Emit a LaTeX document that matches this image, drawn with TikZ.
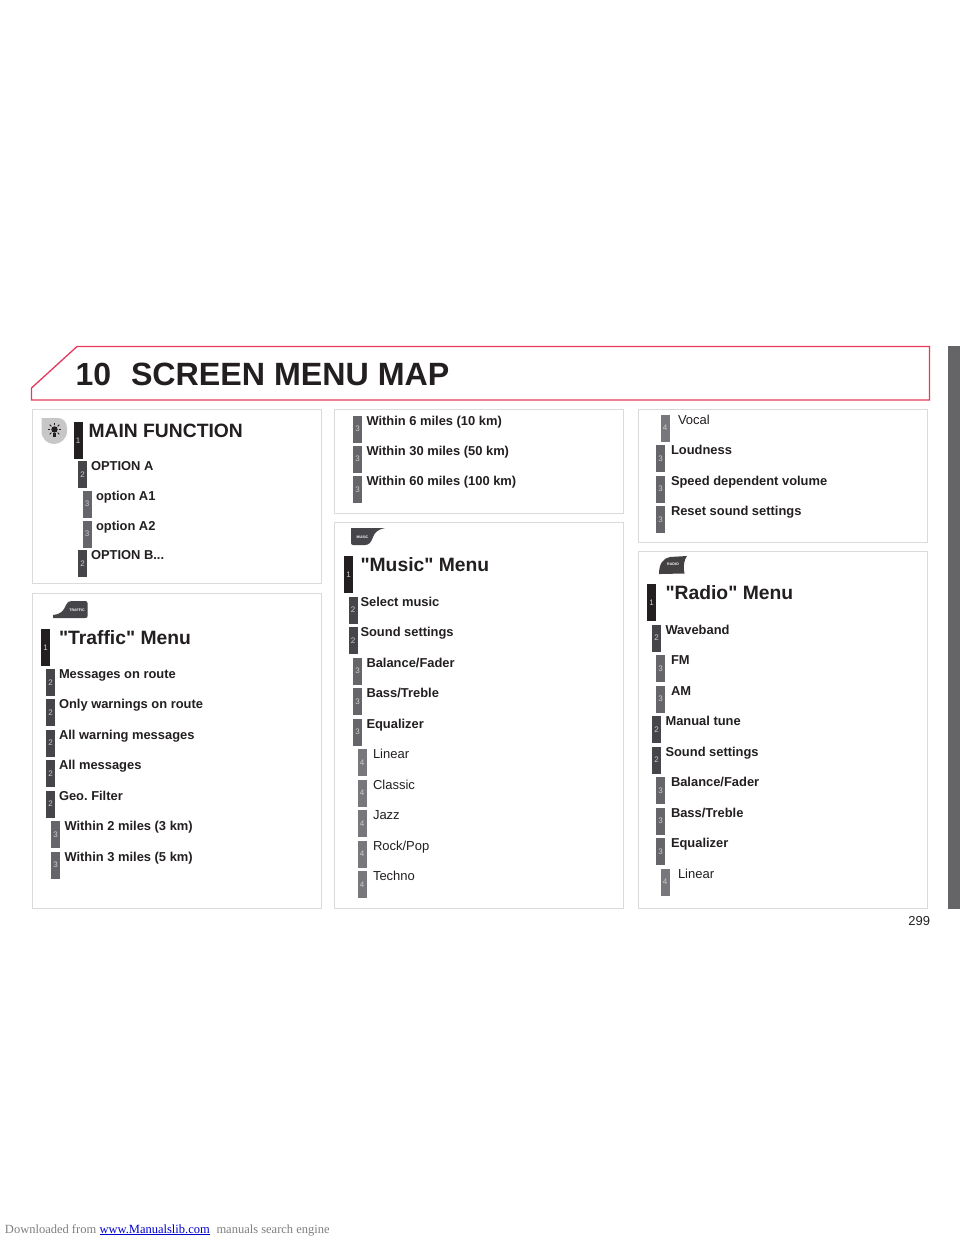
\documentclass[tikz,border=0pt]{standalone}
\usepackage{fontspec}
\setmainfont[Ligatures=TeXOff]{Liberation Sans}
\newfontfamily\footfont{Liberation Serif}
\frenchspacing
\definecolor{ink}{HTML}{231F20}
\definecolor{lvA}{HTML}{231F20}
\definecolor{lvB}{HTML}{46464A}
\definecolor{lvC}{HTML}{66666A}
\definecolor{lvD}{HTML}{78787C}
\definecolor{panelline}{HTML}{DADADA}
\definecolor{redline}{HTML}{E8385C}
\definecolor{sidebar}{HTML}{656567}
\tikzset{
  panel/.style={draw=panelline,line width=1pt,fill=white},
  barbase/.style={anchor=north west,inner sep=0pt,outer sep=0pt,minimum width=9pt,text=white!80!black,font=\fontsize{8}{8}\selectfont},
  barA/.style={barbase,fill=lvA,minimum height=36.5pt},
  barB/.style={barbase,fill=lvB,minimum height=27pt},
  barC/.style={barbase,fill=lvC,minimum height=27pt},
  barD/.style={barbase,fill=lvD,minimum height=27pt},
  lab/.style={anchor=base west,inner sep=0pt,outer sep=0pt,text=ink},
  labA/.style={lab,font=\fontsize{19.3}{20}\selectfont\bfseries},
  labB/.style={lab,font=\fontsize{12.9}{14}\selectfont\bfseries},
  labD/.style={lab,font=\fontsize{13}{14}\selectfont},
  iconshape/.style={fill=lvB,draw=none},
  icontext/.style={inner sep=0pt,text=white,font=\fontsize{3.6}{4}\selectfont\bfseries},
}
\newcounter{ent}
\newcommand{\entA}[4]{\stepcounter{ent}%
  \node[barA] (bar\theent) at (#1,#3-8) {1};
  \node[labA] (txt\theent) at (#2,#3+7) {#4};}
\newcommand{\entB}[4]{\stepcounter{ent}%
  \node[barB] (bar\theent) at (#1,#3-5) {2};
  \node[labB] (txt\theent) at (#2,#3+4.5) {#4};}
\newcommand{\entC}[4]{\stepcounter{ent}%
  \node[barC] (bar\theent) at (#1,#3-5) {3};
  \node[labB] (txt\theent) at (#2,#3+4.5) {#4};}
\newcommand{\entD}[4]{\stepcounter{ent}%
  \node[barD] (bar\theent) at (#1,#3-5) {4};
  \node[labD] (txt\theent) at (#2,#3+4.5) {#4};}
\begin{document}
\begin{tikzpicture}[x=1pt,y=-1pt]
\useasboundingbox (0,0) rectangle (960,1242);
\fill[white] (0,0) rectangle (960,1242);
\fill[sidebar] (948,346) rectangle (960,909);
\draw[redline,line width=1.3pt] (31.5,388) -- (77,346.5) -- (929.5,346.5) -- (929.5,400) -- (31.5,400) -- cycle;
\node[lab,font=\fontsize{32}{32}\selectfont\bfseries] (chapter) at (75.5,385) {10};
\node[lab,font=\fontsize{32.2}{33}\selectfont\bfseries] (title) at (131,385.5) {SCREEN MENU MAP};
\draw[panel] (32,409) rectangle (321,583);
\draw[panel] (32,593) rectangle (321,908);
\draw[panel] (334,409) rectangle (623,513);
\draw[panel] (334,522) rectangle (623,908);
\draw[panel] (638,409) rectangle (927,542);
\draw[panel] (638,551) rectangle (927,908);
% main function icon
\fill[black!22] (41.5,418) -- (58,418) .. controls (63,418) and (67,422) .. (67,428) -- (67,431) .. controls (67,438.5) and (61,444) .. (54,444) .. controls (47,444) and (41.5,438.5) .. (41.5,431) -- cycle;
\fill[ink] (54.5,429.5) circle (3.2pt);
\fill[ink] (52.8,433) rectangle (56.2,437);
\foreach \a in {0,45,...,315} \draw[ink,line width=0.8pt] (54.5,429.5) +({\a}:4.4) -- +({\a}:6.8);
% traffic icon
\fill[iconshape] (53,618) -- (53,615) .. controls (60,614.5) and (64,611) .. (66,605) .. controls (67,602) and (69,601) .. (72,601) -- (85,601) .. controls (87,601) and (87.5,602) .. (87.5,603) -- (87.5,616) .. controls (87.5,617.5) and (87,618) .. (85,618) -- cycle;
\node[icontext] (traffictag) at (77,610) {TRAFFIC};
% music icon
\fill[iconshape] (351,528) -- (385,528) .. controls (378,529.5) and (375,532) .. (373,537) .. controls (371.5,542) and (369,545) .. (365,545) -- (353,545) .. controls (352,545) and (351,544) .. (351,543) -- cycle;
\node[icontext] (musictag) at (362.5,537.5) {MUSIC};
% radio icon
\fill[ink!85] (659,574) .. controls (659,564) and (663,558) .. (670,557) -- (687,556) .. controls (684,560) and (683,566) .. (684.5,573.5) -- (660,574) -- cycle;
\node[icontext] (radiotag) at (673,564.5) {RADIO};
\entA{73.5}{88.5}{430}{MAIN FUNCTION}
\entB{78}{91}{466}{OPTION A}
\entC{82.5}{96}{495.5}{option A1}
\entC{82.5}{96}{525.5}{option A2}
\entB{78}{91}{555}{OPTION B...}
\entA{41}{59}{637}{"Traffic" Menu}
\entB{46}{59}{674}{Messages on route}
\entB{46}{59}{704}{Only warnings on route}
\entB{46}{59}{734.5}{All warning messages}
\entB{46}{59}{765}{All messages}
\entB{46}{59}{795.5}{Geo. Filter}
\entC{51}{64.5}{826}{Within 2 miles (3 km)}
\entC{51}{64.5}{856.5}{Within 3 miles (5 km)}
\entC{353}{366.5}{420.5}{Within 6 miles (10 km)}
\entC{353}{366.5}{450.5}{Within 30 miles (50 km)}
\entC{353}{366.5}{481}{Within 60 miles (100 km)}
\entA{344}{360.5}{564}{"Music" Menu}
\entB{348.5}{360.5}{601.5}{Select music}
\entB{348.5}{360.5}{632}{Sound settings}
\entC{353}{366.5}{662.5}{Balance/Fader}
\entC{353}{366.5}{693}{Bass/Treble}
\entC{353}{366.5}{723.5}{Equalizer}
\entD{357.5}{373}{754}{Linear}
\entD{357.5}{373}{784.5}{Classic}
\entD{357.5}{373}{815}{Jazz}
\entD{357.5}{373}{845.5}{Rock/Pop}
\entD{357.5}{373}{876}{Techno}
\entD{660.5}{678}{419.5}{Vocal}
\entC{656}{671}{450}{Loudness}
\entC{656}{671}{480.5}{Speed dependent volume}
\entC{656}{671}{511}{Reset sound settings}
\entA{647}{665.5}{592}{"Radio" Menu}
\entB{652}{665.5}{629.5}{Waveband}
\entC{656}{671}{660}{FM}
\entC{656}{671}{690.5}{AM}
\entB{652}{665.5}{721}{Manual tune}
\entB{652}{665.5}{751.5}{Sound settings}
\entC{656}{671}{782}{Balance/Fader}
\entC{656}{671}{812.5}{Bass/Treble}
\entC{656}{671}{843}{Equalizer}
\entD{660.5}{678}{873.5}{Linear}
\node[lab,anchor=base east,font=\fontsize{13}{13}\selectfont] (page) at (930,925) {299};
\node[lab,text=black!50,font=\footfont\fontsize{12.5}{13}\selectfont] (foota) at (5,1233) {Downloaded from};
\node[lab,text=blue!80!black,font=\footfont\fontsize{12.5}{13}\selectfont] (footb) at (99.5,1233) {\underline{www.Manualslib.com}};
\node[lab,text=black!50,font=\footfont\fontsize{12.5}{13}\selectfont] (footc) at (216.5,1233) {manuals search engine};
\end{tikzpicture}
\end{document}
